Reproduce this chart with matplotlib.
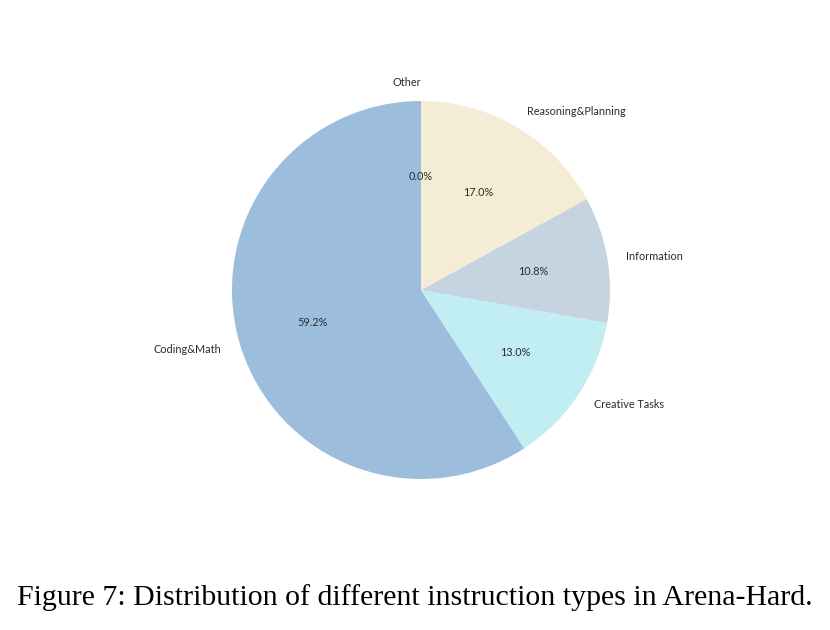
import matplotlib.pyplot as plt

# instruction type shares (percent)
labels = ["Other", "Coding&Math", "Creative Tasks", "Information", "Reasoning&Planning"]
shares = [0.0, 59.2, 13.0, 10.8, 17.0]
colors = ["#d9d9d9", "#9dbddc", "#c0eef3", "#c5d4e0", "#f5ecd6"]

caption = "Figure 7: Distribution of different instruction types in Arena-Hard."

fig = plt.figure(figsize=(8.3, 6.3), dpi=100)
W, H = 830, 630

# the chart image area (faint grey panel)
left, right, top, bottom = 148, 683, 18, 555
ax = fig.add_axes([left / W, 1 - bottom / H, (right - left) / W, (bottom - top) / H])
ax.set_facecolor("#fafafa")

wedges, texts, autotexts = ax.pie(
    shares, labels=labels, colors=colors, startangle=90,
    autopct="%1.1f%%", pctdistance=0.6, labeldistance=1.1,
    textprops={"family": ["Lato", "DejaVu Sans"], "fontsize": 7.8, "color": "#2b2b2b"},
)

r = 189.0
cx, cy = 421, 290
ax.set_xlim(-(cx - left) / r, (right - cx) / r)
ax.set_ylim(-(bottom - cy) / r, (cy - top) / r)
ax.set_aspect("equal")
ax.set_xticks([])
ax.set_yticks([])
for s in ax.spines.values():
    s.set_visible(False)

fig.text(0.5, 1 - 598 / H, caption, ha="center", va="center",
         family=["Liberation Serif", "DejaVu Serif"], fontsize=21.5)

fig.savefig("out.png", dpi=100, facecolor="white")
